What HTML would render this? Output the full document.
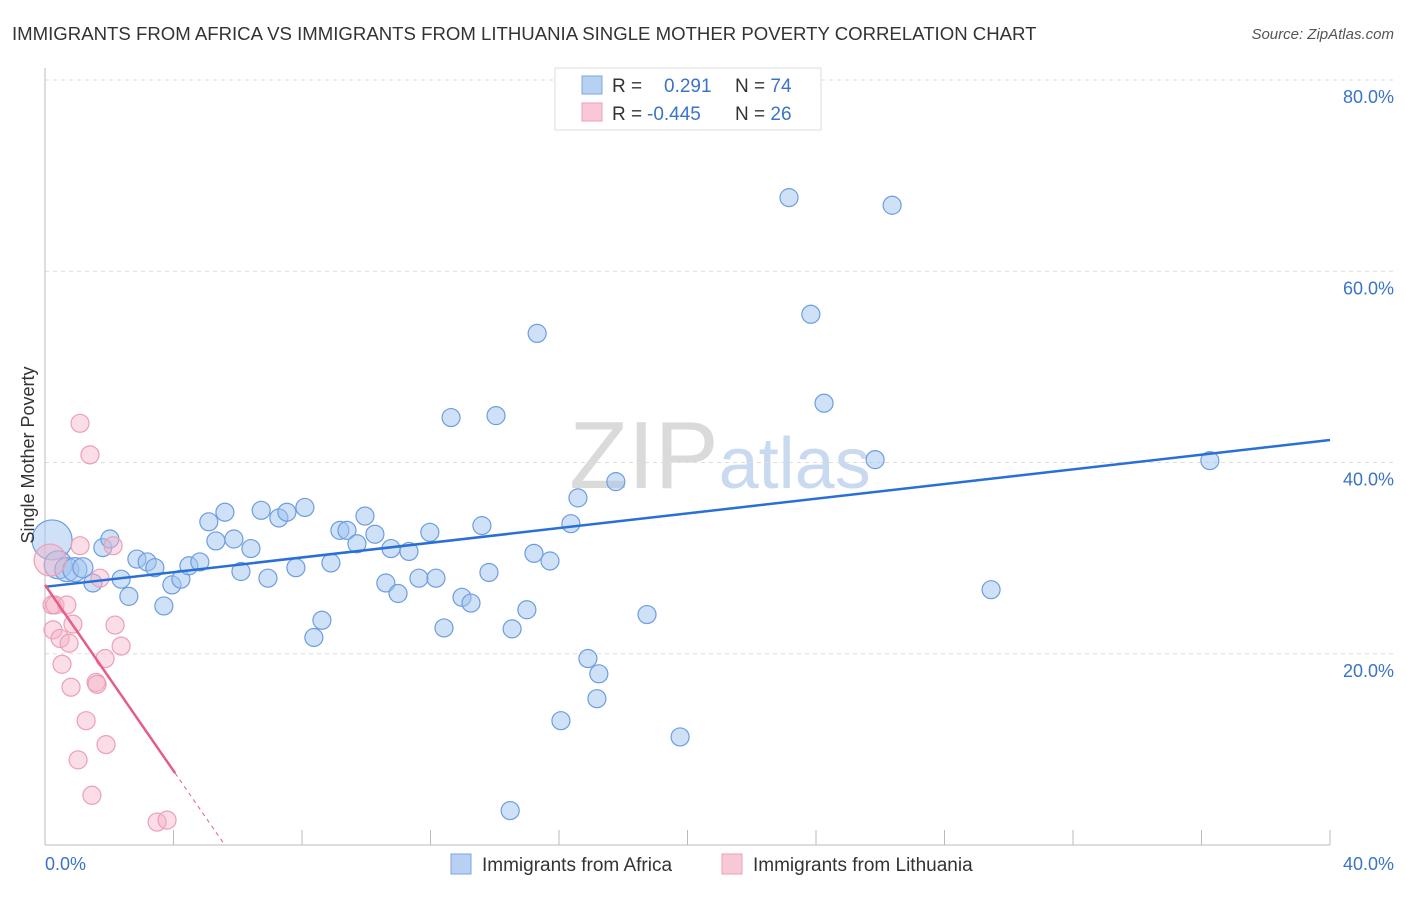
<!DOCTYPE html>
<html><head><meta charset="utf-8"><style>
body{margin:0;background:#fff;font-family:"Liberation Sans",sans-serif}
svg text{font-family:"Liberation Sans",sans-serif}
</style></head><body>
<svg id="c" width="1406" height="892">
<text x="12" y="40" font-size="18.6" fill="#333">IMMIGRANTS FROM AFRICA VS IMMIGRANTS FROM LITHUANIA SINGLE MOTHER POVERTY CORRELATION CHART</text>
<text x="1394" y="39" font-size="15" fill="#555" text-anchor="end" font-style="italic">Source: ZipAtlas.com</text>
<text x="720" y="488" font-size="96" fill="#dadada" text-anchor="middle" font-family="Liberation Serif">ZIP<tspan fill="#c9d9ef" font-family="Liberation Sans" font-size="72">atlas</tspan></text>
<g id="grid"></g><g id="axes"></g><g id="pts"></g><g id="lines"></g>
<text transform="translate(34,455) rotate(-90)" font-size="18" fill="#333" text-anchor="middle">Single Mother Poverty</text>
<text x="45" y="870" font-size="18" fill="#3b73c9">0.0%</text>
<text x="1394" y="870" font-size="18" fill="#3b73c9" text-anchor="end">40.0%</text>
<g>
<rect x="555" y="68" width="266" height="62" fill="#fff" stroke="#ddd"/>
<rect x="582" y="76" width="20" height="18" fill="#b8d1f3" stroke="#7ea6e0"/>
<rect x="582" y="103" width="20" height="18" fill="#f8c8d6" stroke="#ec9fb7"/>
<text x="612" y="92" font-size="19" fill="#333">R = <tspan fill="#3b73c9" x="664">0.291</tspan><tspan x="735">N = </tspan><tspan fill="#3b73c9">74</tspan></text>
<text x="612" y="120" font-size="19" fill="#333">R = <tspan fill="#3b73c9" x="647">-0.445</tspan><tspan x="735">N = </tspan><tspan fill="#3b73c9">26</tspan></text>
</g>
<g>
<rect x="451" y="854" width="20" height="20" fill="#b8d1f3" stroke="#7ea6e0"/>
<text x="482" y="871" font-size="19" fill="#333">Immigrants from Africa</text>
<rect x="722" y="854" width="20" height="20" fill="#f8c8d6" stroke="#ec9fb7"/>
<text x="753" y="871" font-size="19" fill="#333">Immigrants from Lithuania</text>
</g>
</svg>
<script>
const yTicks=[20,40,60,80];
const xTicks=[0,4,8,12,16,20,24,28,32,36,40];
const blueX=[0.22,0.41,0.68,0.93,1.18,1.49,1.80,2.02,2.37,2.61,2.86,3.18,3.42,3.70,3.95,4.23,4.48,4.82,5.10,5.32,5.60,5.88,6.10,6.41,6.73,6.94,7.28,7.53,7.81,8.09,8.37,8.62,8.90,9.18,9.40,9.71,9.96,10.27,10.61,10.77,10.99,11.33,11.64,11.98,12.17,12.42,12.64,12.98,13.26,13.60,13.82,14.04,14.54,15.00,15.22,15.32,15.72,16.06,16.37,16.59,16.90,17.18,17.24,14.48,17.77,18.74,19.77,23.16,23.84,24.25,25.84,26.37,29.45,36.26];
const blueY=[31.9,29.3,28.8,28.8,29.0,27.4,31.1,32.0,27.8,26.0,29.9,29.6,29.0,25.0,27.2,27.8,29.2,29.6,33.8,31.8,34.8,32.0,28.6,31.0,35.0,27.9,34.2,34.8,29.0,35.3,21.7,23.5,29.5,32.9,32.9,31.5,34.4,32.5,27.4,31.0,26.3,30.7,27.9,32.7,27.9,22.7,44.7,25.9,25.3,33.4,28.5,44.9,22.6,24.6,30.5,53.5,29.7,13.0,33.6,36.3,19.5,15.3,17.9,3.6,38.0,24.1,11.3,67.7,55.5,46.2,40.3,66.9,26.7,40.2];
const blueR=[20,14,12,12,10,9,9,9,9,9,9,9,9,9,9,9,9,9,9,9,9,9,9,9,9,9,9,9,9,9,9,9,9,9,9,9,9,9,9,9,9,9,9,9,9,9,9,9,9,9,9,9,9,9,9,9,9,9,9,9,9,9,9,9,9,9,9,9,9,9,9,9,9,9];
const pinkX=[0.16,0.22,0.31,0.68,0.25,0.47,0.75,0.87,1.09,1.09,1.40,2.12,1.71,1.59,1.62,1.87,2.18,2.37,0.53,0.81,1.28,1.03,1.90,1.46,3.49,3.80];
const pinkY=[29.8,25.1,25.1,25.1,22.5,21.6,21.1,23.1,31.3,44.1,40.8,31.3,27.9,17.0,16.8,19.5,23.0,20.8,18.9,16.5,13.0,8.9,10.5,5.2,2.4,2.6];
const blueTrend=[27.0,42.35], pinkTrend=[27.2,-4.86];
const X0=45,X1=1330,Y0=845,PX=(X1-X0)/40,PY=9.5625;
const sx=v=>X0+v*PX, sy=v=>Y0-v*PY;
const NS="http://www.w3.org/2000/svg";
function mk(t,a,p){const e=document.createElementNS(NS,t);for(const k in a)e.setAttribute(k,a[k]);p.appendChild(e);return e;}
const grid=document.getElementById('grid'),axes=document.getElementById('axes'),pts=document.getElementById('pts'),lines=document.getElementById('lines');
yTicks.forEach(v=>{
 const l=mk('line',{x1:45,x2:1394,y1:sy(v),y2:sy(v),stroke:'#ddd','stroke-dasharray':'4,4'},grid);
 
 
 const t=mk('text',{x:1394,y:sy(v)+23,'font-size':18,fill:'#3b73c9','text-anchor':'end'},grid);t.textContent=v.toFixed(1)+'%';
 
 
});
mk('line',{x1:45,x2:45,y1:68,y2:Y0,stroke:'#bbb'},axes);
mk('line',{x1:45,x2:1330,y1:Y0,y2:Y0,stroke:'#bbb'},axes);
xTicks.forEach(v=>{const l=mk('line',{x1:sx(v),x2:sx(v),y1:830,y2:Y0,stroke:'#bbb'},axes);
 
 });
blueX.forEach((v,i)=>{const c=mk('circle',{cx:sx(v),cy:sy(blueY[i]),r:blueR[i]||9,fill:'rgba(160,195,240,0.5)',stroke:'#6d9de0','stroke-width':1.2},pts);
 
 });
pinkX.forEach((v,i)=>{const c=mk('circle',{cx:sx(v),cy:sy(pinkY[i]),r:i==0?16:9,fill:'rgba(245,180,200,0.45)',stroke:'#ec9fb7','stroke-width':1.2},pts);
 
 });
let bl=mk('line',{x1:sx(0),y1:sy(blueTrend[0]),x2:sx(40),y2:sy(blueTrend[1]),stroke:'#2a6fd6','stroke-width':2.5},lines);


const pAt=x=>pinkTrend[0]+pinkTrend[1]*x;
let pl=mk('line',{x1:sx(0),y1:sy(pAt(0)),x2:sx(4.05),y2:sy(pAt(4.05)),stroke:'#e65c87','stroke-width':2.5},lines);


const xz=-pinkTrend[0]/pinkTrend[1];
let pd=mk('line',{x1:sx(4.05),y1:sy(pAt(4.05)),x2:sx(xz),y2:sy(0),stroke:'#e65c87','stroke-width':1,'stroke-dasharray':'4,4'},lines);


</script>
</body></html>
